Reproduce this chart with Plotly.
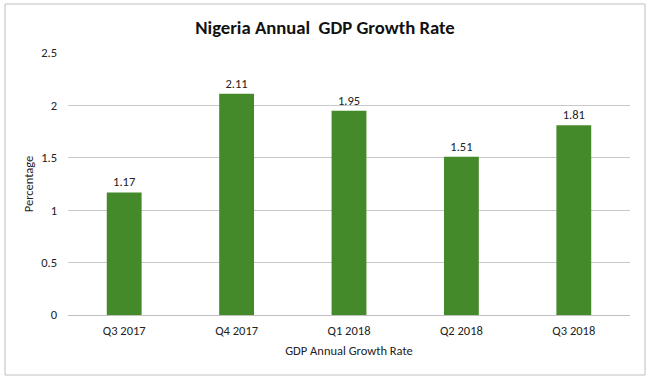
import plotly.graph_objects as go

categories = ["Q3 2017", "Q4 2017", "Q1 2018", "Q2 2018", "Q3 2018"]
values = [1.17, 2.11, 1.95, 1.51, 1.81]
y_ticks = [0, 0.5, 1, 1.5, 2, 2.5]
y_tick_labels = ["0", "0.5", "1", "1.5", "2", "2.5"]

FONT = "Calibri, Carlito, Lato, 'Open Sans', sans-serif"

fig = go.Figure(go.Bar(
    x=categories, y=values,
    marker=dict(color="#448a2b", line=dict(width=0)),
    text=[f"{v:.2f}" for v in values],
    textposition="outside",
    textfont=dict(size=12.5, color="#222222", family=FONT),
    cliponaxis=False,
    hoverinfo="skip",
))

fig.update_layout(
    width=650, height=381,
    paper_bgcolor="white", plot_bgcolor="white",
    margin=dict(l=68, r=20, t=53, b=66),
    bargap=0.69,
    showlegend=False,
    font=dict(family=FONT, size=12.5, color="#222222"),
    title=dict(text="<b>Nigeria Annual  GDP Growth Rate</b>", x=0.5, xanchor="center",
               y=1 - 27/381, yanchor="middle",
               font=dict(size=18.7, color="#111111", family=FONT)),
    xaxis=dict(showgrid=False, showline=True, linecolor="#c0c0c0", linewidth=1,
               ticks="", tickfont=dict(size=12.5), ticklabelstandoff=4,
               title=dict(text="GDP Annual Growth Rate", font=dict(size=12.5), standoff=9)),
    yaxis=dict(range=[0, 2.5], tickvals=y_ticks, ticktext=y_tick_labels,
               showgrid=True, gridcolor="#c8c8c8", gridwidth=1, zeroline=False,
               showline=False, ticks="", ticklabelstandoff=10, tickfont=dict(size=12.5),
               title=dict(text="Percentage", font=dict(size=12.5), standoff=4)),
    shapes=[dict(type="rect", xref="paper", yref="paper",
                 x0=-63/562, x1=(645-68)/562, y0=-(375-315)/262, y1=(315-4)/262,
                 line=dict(color="#c0c0c0", width=1), fillcolor="rgba(0,0,0,0)", layer="below")],
)

fig.write_html("out.html", config={"displayModeBar": False},
               post_script="document.body.style.margin='0';document.body.style.overflow='hidden';")
